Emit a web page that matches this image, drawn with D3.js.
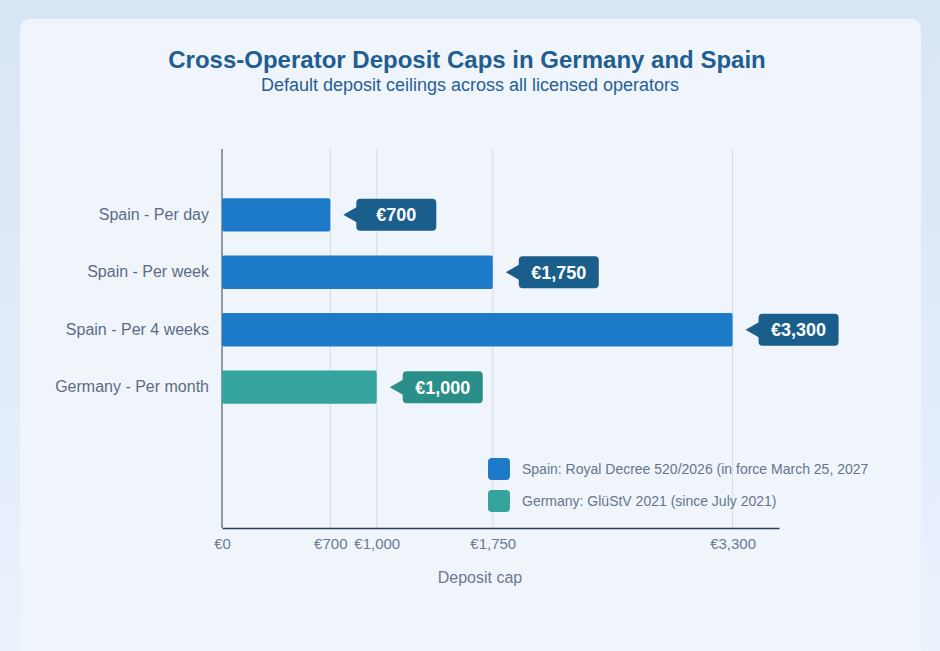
<!DOCTYPE html>
<html>
<head>
<meta charset="utf-8">
<title>Cross-Operator Deposit Caps</title>
<script src="https://d3js.org/d3.v7.min.js"></script>
<style>
  html, body { margin: 0; padding: 0; }
  body { width: 940px; height: 651px; overflow: hidden;
         font-family: "Liberation Sans", Arial, Helvetica, sans-serif; }
</style>
</head>
<body>
<div id="chart"></div>
<script>
// Data
const categories = ["Spain - Per day", "Spain - Per week", "Spain - Per 4 weeks", "Germany - Per month"];
const values = [700, 1750, 3300, 1000];
const country = ["Spain", "Spain", "Spain", "Germany"];
const tickValues = [0, 700, 1000, 1750, 3300];
const legendLabels = ["Spain: Royal Decree 520/2026 (in force March 25, 2027", "Germany: GlüStV 2021 (since July 2021)"];

const width = 940, height = 651;
const fill = { Spain: "#1d7ac9", Germany: "#35a39e" };
const tagFill = { Spain: "#1a5e8c", Germany: "#2b8f89" };

const svg = d3.select("#chart").append("svg")
  .attr("width", width).attr("height", height);

const defs = svg.append("defs");
const bg = defs.append("linearGradient").attr("id", "bg")
  .attr("x1", 0).attr("y1", 0).attr("x2", 0).attr("y2", 1);
bg.append("stop").attr("offset", "0%").attr("stop-color", "#d8e5f5");
bg.append("stop").attr("offset", "100%").attr("stop-color", "#eaf2fd");

svg.append("rect").attr("width", width).attr("height", height).attr("fill", "url(#bg)");

// card
svg.append("rect")
  .attr("x", 20).attr("y", 19).attr("width", 901).attr("height", 640)
  .attr("rx", 10).attr("fill", "#f0f5fb");

// titles
svg.append("text")
  .attr("x", 467).attr("y", 68).attr("text-anchor", "middle")
  .attr("font-size", 24).attr("font-weight", "bold").attr("fill", "#215d93")
  .text("Cross-Operator Deposit Caps in Germany and Spain");
svg.append("text")
  .attr("x", 470).attr("y", 91).attr("text-anchor", "middle")
  .attr("font-size", 18).attr("fill", "#255f96")
  .text("Default deposit ceilings across all licensed operators");

const m = { left: 222, right: 779, top: 149, bottom: 528 };

const x = d3.scaleLinear().domain([0, 3600]).range([m.left, m.right]);
const y = d3.scaleBand().domain(categories).range([174, 428])
  .paddingInner(0.42).paddingOuter(0.42);

// gridlines
svg.append("g").selectAll("line")
  .data(tickValues.filter(d => d > 0))
  .join("line")
  .attr("x1", d => x(d)).attr("x2", d => x(d))
  .attr("y1", m.top).attr("y2", m.bottom)
  .attr("stroke", "#d3dbe9").attr("stroke-width", 1);

// x axis
const xAxis = svg.append("g")
  .attr("transform", `translate(0,${m.bottom})`)
  .call(d3.axisBottom(x).tickValues(tickValues).tickSize(0).tickPadding(10)
    .tickFormat(d => "€" + d3.format(",")(d)));
xAxis.select(".domain").attr("stroke", "#2f3f5a").attr("stroke-width", 1.5);
xAxis.selectAll("text")
  .attr("font-family", "Liberation Sans, Arial, sans-serif")
  .attr("font-size", 15).attr("fill", "#6b7a92");

// y axis
const yAxis = svg.append("g")
  .attr("transform", `translate(${m.left},0)`)
  .call(d3.axisLeft(y).tickSize(0).tickPadding(13));
yAxis.select(".domain").remove();
yAxis.selectAll("text")
  .attr("font-family", "Liberation Sans, Arial, sans-serif")
  .attr("font-size", 16).attr("fill", "#5d6c84");
svg.append("line")
  .attr("x1", m.left).attr("x2", m.left).attr("y1", m.top).attr("y2", m.bottom)
  .attr("stroke", "#6d7b91").attr("stroke-width", 1.5);

// axis title
svg.append("text")
  .attr("x", 480).attr("y", 583).attr("text-anchor", "middle")
  .attr("font-size", 16).attr("fill", "#6b7a92")
  .text("Deposit cap");

const rows = categories.map((c, i) => ({ cat: c, value: values[i], country: country[i] }));

// bars
svg.append("g").selectAll("rect")
  .data(rows)
  .join("rect")
  .attr("x", x(0))
  .attr("y", d => y(d.cat))
  .attr("width", d => x(d.value) - x(0))
  .attr("height", y.bandwidth())
  .attr("rx", 2)
  .attr("fill", d => fill[d.country]);

// value tags
const tagW = 80, tagH = 32, gap = 13, arrow = 13;
const tags = svg.append("g").selectAll("g")
  .data(rows)
  .join("g")
  .attr("transform", d => `translate(${x(d.value) + gap},${y(d.cat) + y.bandwidth() / 2})`);
tags.append("path")
  .attr("d", `M0,0 L${arrow + 1},-8 L${arrow + 1},8 Z`)
  .attr("fill", d => tagFill[d.country]);
tags.append("rect")
  .attr("x", arrow).attr("y", -tagH / 2)
  .attr("width", tagW).attr("height", tagH).attr("rx", 4)
  .attr("fill", d => tagFill[d.country]);
tags.append("text")
  .attr("x", arrow + tagW / 2).attr("dy", "0.36em")
  .attr("text-anchor", "middle")
  .attr("font-size", 18).attr("font-weight", "bold").attr("fill", "#ffffff")
  .text(d => "€" + d3.format(",")(d.value));

// legend
const legend = svg.append("g").attr("transform", "translate(488,458)");
const lg = legend.selectAll("g")
  .data(["Spain", "Germany"])
  .join("g")
  .attr("transform", (d, i) => `translate(0,${i * 32})`);
lg.append("rect")
  .attr("width", 22).attr("height", 22).attr("rx", 4)
  .attr("fill", d => fill[d]);
lg.append("text")
  .attr("x", 34).attr("y", 11).attr("dy", "0.35em")
  .attr("font-size", 14).attr("fill", "#66758c")
  .text((d, i) => legendLabels[i]);
</script>
</body>
</html>
